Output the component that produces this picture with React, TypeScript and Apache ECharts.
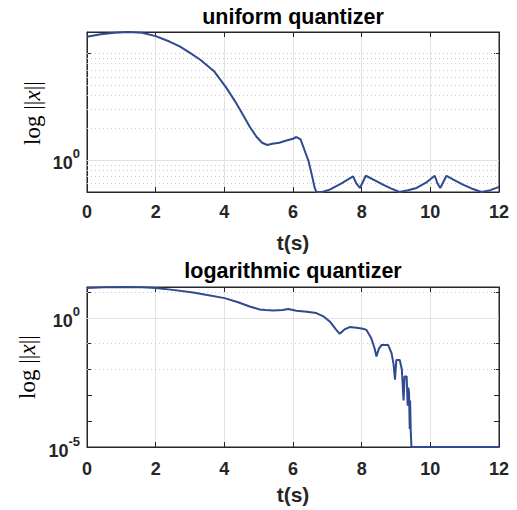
import React, { useEffect, useRef } from 'react';
import * as echarts from 'echarts';

// ---------- data ----------
const titles = ['uniform quantizer', 'logarithmic quantizer'];
const xLabel = 't(s)';

const uniformT = [0, 0.4, 0.8, 1.2, 1.6, 2.0, 2.4, 2.7, 3.0, 3.3, 3.7, 4.06, 4.3, 4.5, 4.74, 4.93, 5.1, 5.25, 5.4, 5.6, 5.81, 6.0, 6.1, 6.22, 6.35, 6.45, 6.55, 6.63, 6.68, 6.85, 7.07, 7.4, 7.75, 7.85, 7.95, 8.12, 8.4, 8.62, 8.85, 9.1, 9.35, 9.6, 9.9, 10.13, 10.21, 10.29, 10.47, 10.7, 10.95, 11.2, 11.49, 11.75, 12];
const uniformX = [14.3, 15.1, 15.6, 15.85, 15.6, 14.5, 12.9, 11.6, 10.1, 8.7, 6.8, 4.74, 3.6, 2.8, 2.05, 1.66, 1.45, 1.38, 1.42, 1.45, 1.52, 1.58, 1.64, 1.56, 1.2, 0.98, 0.72, 0.55, 0.5, 0.5, 0.526, 0.6, 0.7, 0.6, 0.545, 0.71, 0.64, 0.586, 0.54, 0.5, 0.52, 0.546, 0.62, 0.71, 0.6, 0.545, 0.71, 0.645, 0.586, 0.54, 0.5, 0.52, 0.558];

const logT = [0, 0.5, 1.15, 1.6, 2.0, 2.5, 3.09, 3.5, 4.01, 4.4, 4.74, 5.03, 5.2, 5.42, 5.7, 5.86, 6.1, 6.4, 6.68, 6.9, 7.07, 7.25, 7.36, 7.5, 7.65, 7.85, 8.04, 8.14, 8.28, 8.38, 8.43, 8.5, 8.58, 8.77, 8.87, 8.93, 8.97, 9.01, 9.11, 9.17, 9.22, 9.25, 9.31, 9.34, 9.36, 9.38, 9.4, 9.41, 9.43, 9.45, 12];
const logX = [14.2, 15.0, 15.5, 15.3, 14.2, 12, 9.5, 7.6, 5.75, 4.0, 2.74, 2.09, 2.0, 1.92, 2.0, 2.17, 1.86, 1.7, 1.52, 1.1, 0.72, 0.355, 0.24, 0.355, 0.436, 0.41, 0.375, 0.34, 0.162, 0.063, 0.0316, 0.063, 0.089, 0.089, 0.0427, 0.0158, 0.004, 0.0234, 0.0234, 0.01, 0.00063, 0.0054, 0.0054, 0.0004, 0.002, 0.00126, 0.00005, 0.00063, 0.00004, 0.00001, 0.00001];

const yRanges = [[0.5, 15.85], [0.00001, 15.5]];
const labelledExponents = [[0], [0, -5]];
const majorGrid = [[1], [1]];
const minorGrid = [[0.6, 0.7, 0.8, 0.9, 2, 3, 4, 5, 6, 7, 8, 9, 10], [10, 0.1, 0.01, 0.001, 0.0001]];

// ---------- styles ----------
const SANS = '"Liberation Sans", Arial, Helvetica, sans-serif';
const SERIF = '"Liberation Serif", "Times New Roman", serif';
const AXIS = '#262626';
const LINE = '#2f4a8f';
const GRID_TOPS = [32, 287];
const GRID_H = 160;
const NAME_GAPS = [40, 37];
const XLABEL_MARGIN = [11, 13];
const TITLE_TOPS = [6, 260];
const YLABEL_POS = [[32, 113], [27, 367]];

export default function App() {
  const ref = useRef<HTMLDivElement>(null);
  useEffect(() => {
    if (!ref.current) return;
    const chart = echarts.init(ref.current, null, { renderer: 'svg' });

    const grids = GRID_TOPS.map((top) => ({
      left: 87, right: 18, top, height: GRID_H, containLabel: false,
      show: true, borderColor: AXIS, borderWidth: 1, backgroundColor: '#fff',
    }));

    const xAxes: any[] = [];
    const yAxes: any[] = [];
    [0, 1].forEach((g) => {
      xAxes.push({
        type: 'value', gridIndex: g, min: 0, max: 12, interval: 2, position: 'bottom',
        axisLine: { show: true, onZero: false, lineStyle: { color: AXIS, width: 1 } },
        axisTick: { show: true, inside: true, length: 5, lineStyle: { color: AXIS } },
        axisLabel: { color: AXIS, fontSize: 18, fontWeight: 'bold', fontFamily: SANS, margin: XLABEL_MARGIN[g] },
        splitLine: { show: true, lineStyle: { color: '#e3e3e3', width: 1 } },
        name: xLabel, nameLocation: 'middle', nameGap: NAME_GAPS[g],
        nameTextStyle: { color: AXIS, fontSize: 21, fontWeight: 'bold', fontFamily: SANS },
      });
      xAxes.push({
        type: 'value', gridIndex: g, min: 0, max: 12, interval: 2, position: 'top',
        axisLine: { show: true, onZero: false, lineStyle: { color: AXIS, width: 1 } },
        axisTick: { show: true, inside: true, length: 5, lineStyle: { color: AXIS } },
        axisLabel: { show: false }, splitLine: { show: false },
      });
      const labels = labelledExponents[g];
      yAxes.push({
        type: 'log', logBase: 10, gridIndex: g, min: yRanges[g][0], max: yRanges[g][1], position: 'left',
        axisLine: { show: true, onZero: false, lineStyle: { color: AXIS, width: 1 } },
        axisTick: { show: true, inside: true, length: 5, lineStyle: { color: AXIS } },
        splitLine: { show: false },
        axisLabel: {
          margin: 7,
          formatter: (v: number) => {
            const e = Math.log10(v);
            const r = Math.round(e);
            if (Math.abs(e - r) < 1e-6 && labels.indexOf(r) >= 0) return `{b|10}{s|${r}}`;
            return '';
          },
          rich: {
            b: { fontSize: 18, fontWeight: 'bold', fontFamily: SANS, color: AXIS, verticalAlign: 'bottom' },
            s: { fontSize: 13, fontWeight: 'bold', fontFamily: SANS, color: AXIS, verticalAlign: 'top', padding: [0, 0, 12, 0] },
          },
        },
      });
      yAxes.push({
        type: 'log', logBase: 10, gridIndex: g, min: yRanges[g][0], max: yRanges[g][1], position: 'right',
        axisLine: { show: true, onZero: false, lineStyle: { color: AXIS, width: 1 } },
        axisTick: { show: true, inside: true, length: 5, lineStyle: { color: AXIS } },
        axisLabel: { show: false }, splitLine: { show: false },
      });
    });

    const mkSeries = (g: number, ts: number[], xs: number[]) => ({
      type: 'line', xAxisIndex: g * 2, yAxisIndex: g * 2, showSymbol: false, symbol: 'none',
      data: ts.map((t, i) => [t, xs[i]]),
      lineStyle: { color: LINE, width: 2 }, z: 10, clip: true,
      markLine: {
        silent: true, symbol: ['none', 'none'], z: 1, animation: false,
        label: { show: false },
        data: [
          ...minorGrid[g].map((v) => ({ yAxis: v, lineStyle: { color: '#cdcdcd', type: [1, 3], width: 1 } })),
          ...majorGrid[g].map((v) => ({ yAxis: v, lineStyle: { color: '#e3e3e3', type: 'solid', width: 1 } })),
        ],
      },
    });

    const yLabelRich = {
      a: { fontFamily: SERIF, fontSize: 23, color: AXIS },
      i: { fontFamily: SERIF, fontSize: 23, fontStyle: 'italic', color: AXIS },
    };

    chart.setOption({
      animation: false,
      backgroundColor: '#fff',
      title: titles.map((text, g) => ({
        text, left: 293, top: TITLE_TOPS[g], textAlign: 'center', padding: 0,
        textStyle: { fontSize: 21.5, fontWeight: 'bold', fontFamily: SANS, color: '#000' },
      })),
      grid: grids,
      xAxis: xAxes,
      yAxis: yAxes,
      series: [mkSeries(0, uniformT, uniformX), mkSeries(1, logT, logX)],
      graphic: YLABEL_POS.map(([x, y]) => ({
        type: 'text', x, y, rotation: Math.PI / 2, silent: true,
        style: { text: '{a|log }{a|||}{i|x}{a|||}', rich: yLabelRich, align: 'center', verticalAlign: 'middle' },
      })),
    });
    return () => chart.dispose();
  }, []);
  return <div ref={ref} style={{ width: 517, height: 510, position: 'absolute', left: 0, top: 0 }} />;
}
